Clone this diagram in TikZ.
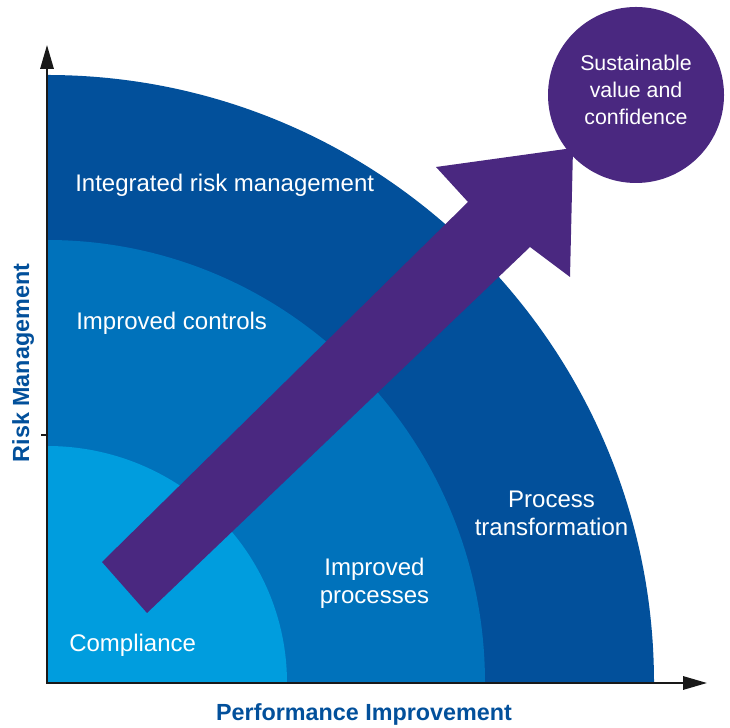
\documentclass[tikz,border=0pt]{standalone}
\usepackage{fontspec}
\setmainfont{Liberation Sans}
\usetikzlibrary{arrows.meta,positioning}
\definecolor{riskdark}{HTML}{02509B}
\definecolor{riskmid}{HTML}{0072BB}
\definecolor{risklight}{HTML}{009DDE}
\definecolor{valuepurple}{HTML}{4A2880}

\begin{document}
\begin{tikzpicture}[
    x=0.75pt, y=0.75pt,
    axis/.style={line width=1.6pt, draw=black!90, -{Triangle[length=18pt,width=10pt]}},
    zone/.style={text=white, font=\fontsize{18}{21}\selectfont},
    axislabel/.style={text=riskdark, font=\fontsize{17.5}{21}\selectfont\bfseries},
    goal/.style={circle, fill=valuepurple, inner sep=0pt, minimum size=132pt}
  ]
    \useasboundingbox (0,0) rectangle (730,727);
    \coordinate (origin) at (47,44);
    % quarter rings, outside in
    \fill[riskdark] (origin) -- (654,44) arc[start angle=0, end angle=90, x radius=607, y radius=608] -- cycle;
    \fill[riskmid] (origin) -- (485,44) arc[start angle=0, end angle=90, x radius=438, y radius=443] -- cycle;
    \fill[risklight] (origin) -- (287,44) arc[start angle=0, end angle=90, x radius=240, y radius=237] -- cycle;
    % growth arrow + target
    \fill[valuepurple] (102,165) -- (147,114) -- (530,480) -- (570,450) -- (573,579) -- (436,560) -- (468,525) -- cycle;
    \node[goal] (goal) at (636,632) {};
    \node[zone, font=\fontsize{16}{20}\selectfont, align=center] (goaltext) at (636,637) {Sustainable\\value and\\confidence};
    % ring labels
    \node[zone, anchor=base west, inner sep=0pt] (integrated) at (75,535) {Integrated risk management};
    \node[zone, anchor=base west, inner sep=0pt] (controls) at (76,397) {Improved controls};
    \node[zone, anchor=base west, inner sep=0pt] (compliance) at (69,76) {Compliance};
    \node[zone, align=center, inner sep=0pt] (processes) at (374.5,144) {Improved\\processes};
    \node[zone, align=center, inner sep=0pt] (transform) at (551.5,213.5) {Process\\transformation};
    % axes
    \coordinate (corner) at (47,43.2);
    \coordinate (ytop) at (47,682);
    \coordinate (xend) at (707,44);
    \draw[axis] (corner) -- (ytop);
    \draw[axis] (46.2,44) -- (xend);
    \draw[line width=1.6pt, draw=black!90] (41,292) -- (47,292);
    \node[axislabel, anchor=base, inner sep=0pt] (xlabel) at (364,7) {Performance Improvement};
    \node[axislabel, anchor=base, inner sep=0pt, rotate=90] (ylabel) at (29,364) {Risk Management};
  \end{tikzpicture}
\end{document}
